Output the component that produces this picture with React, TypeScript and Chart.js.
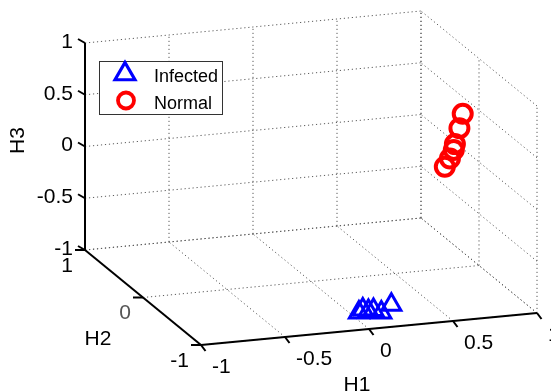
import React, { useEffect, useRef } from 'react';
import { Chart, registerables } from 'chart.js';

Chart.register(...registerables);

// ---------- data ----------
const SERIES_NAMES = ['Infected', 'Normal'];
const AXIS_TITLES = ['H1', 'H2', 'H3'];

const H1_TICKS = [-1, -0.5, 0, 0.5, 1];
const H2_TICKS = [-1, 0, 1];
const H3_TICKS = [-1, -0.5, 0, 0.5, 1];
const H1_TICK_LABELS = ['-1', '-0.5', '0', '0.5', '1'];
const H2_TICK_LABELS = ['-1', '0', '1'];
const H3_TICK_LABELS = ['-1', '-0.5', '0', '0.5', '1'];

const infectedH1 = [0.04, 0.07, 0.1, 0.13, 0.17, 0.24];
const infectedH2 = [-0.71, -0.69, -0.7, -0.7, -0.72, -0.69];
const infectedH3 = [-0.98, -0.965, -0.98, -0.975, -0.995, -0.945];

const normalH1 = [0.91, 0.88, 0.86, 0.85, 0.82, 0.8];
const normalH2 = [0.02, -0.01, 0.01, 0.0, -0.02, 0.01];
const normalH3 = [0.47, 0.35, 0.19, 0.14, 0.07, -0.02];

// ---------- view (orthographic projection, layout only) ----------
const W = 551;
const H = 391;
const VIEW = {
  cx: 311,
  cy: 178,
  e1: [168, -16],
  e2: [-58, -47.5],
  e3: [0, -103.5],
};
const FONT = '"Liberation Sans", Arial, Helvetica, sans-serif';

function project(a: number, b: number, c: number) {
  return {
    x: VIEW.cx + VIEW.e1[0] * a + VIEW.e2[0] * b + VIEW.e3[0] * c,
    y: VIEW.cy + VIEW.e1[1] * a + VIEW.e2[1] * b + VIEW.e3[1] * c,
  };
}

type P3 = [number, number, number];

function segment(p: P3, q: P3, style: any, order: number, offset?: [number, number]) {
  const a = project(p[0], p[1], p[2]);
  let b: { x: number; y: number };
  if (offset) {
    b = { x: a.x + offset[0], y: a.y + offset[1] };
  } else {
    b = project(q[0], q[1], q[2]);
  }
  return {
    type: 'scatter',
    data: [a, b],
    showLine: true,
    pointRadius: 0,
    pointHoverRadius: 0,
    fill: false,
    clip: false,
    order,
    ...style,
  };
}

const GRID_STYLE = { borderColor: '#5a5a5a', borderWidth: 1, borderDash: [1.2, 2.8] };
const AXIS_STYLE = { borderColor: '#000000', borderWidth: 2 };
const TICK_STYLE = { borderColor: '#000000', borderWidth: 2 };

function buildDatasets() {
  const ds: any[] = [];
  // back wall H2 = 1
  H1_TICKS.forEach((t) => ds.push(segment([t, 1, -1], [t, 1, 1], GRID_STYLE, 3)));
  H3_TICKS.forEach((t) => ds.push(segment([-1, 1, t], [1, 1, t], GRID_STYLE, 3)));
  // side wall H1 = 1
  H2_TICKS.forEach((t) => ds.push(segment([1, t, -1], [1, t, 1], GRID_STYLE, 3)));
  H3_TICKS.forEach((t) => ds.push(segment([1, -1, t], [1, 1, t], GRID_STYLE, 3)));
  // floor H3 = -1
  H1_TICKS.forEach((t) => ds.push(segment([t, -1, -1], [t, 1, -1], GRID_STYLE, 3)));
  H2_TICKS.forEach((t) => ds.push(segment([-1, t, -1], [1, t, -1], GRID_STYLE, 3)));

  // axes
  ds.push(segment([-1, 1, -1], [-1, 1, 1], AXIS_STYLE, 2));
  ds.push(segment([-1, -1, -1], [-1, 1, -1], AXIS_STYLE, 2));
  ds.push(segment([-1, -1, -1], [1, -1, -1], AXIS_STYLE, 2));

  // ticks
  H3_TICKS.forEach((t) => ds.push(segment([-1, 1, t], [-1, 1, t], TICK_STYLE, 2, [-7, -4])));
  H2_TICKS.forEach((t) => ds.push(segment([-1, t, -1], [-1, t, -1], TICK_STYLE, 2, [-10, 0])));
  H1_TICKS.forEach((t) => ds.push(segment([t, -1, -1], [t, -1, -1], TICK_STYLE, 2, [4.5, 6])));

  // markers
  ds.push({
    type: 'scatter',
    label: SERIES_NAMES[0],
    data: infectedH1.map((v, i) => project(v, infectedH2[i], infectedH3[i])),
    pointStyle: 'triangle',
    pointRadius: 11,
    pointBorderWidth: 3,
    borderColor: '#0000ff',
    backgroundColor: 'rgba(0,0,0,0)',
    pointBackgroundColor: 'rgba(0,0,0,0)',
    pointBorderColor: '#0000ff',
    showLine: false,
    clip: false,
    order: 0,
  });
  ds.push({
    type: 'scatter',
    label: SERIES_NAMES[1],
    data: normalH1.map((v, i) => project(v, normalH2[i], normalH3[i])),
    pointStyle: 'circle',
    pointRadius: 9,
    pointBorderWidth: 4,
    borderColor: '#ff0000',
    backgroundColor: 'rgba(0,0,0,0)',
    pointBackgroundColor: 'rgba(0,0,0,0)',
    pointBorderColor: '#ff0000',
    showLine: false,
    clip: false,
    order: 0,
  });
  return ds;
}

const overlayPlugin = {
  id: 'overlay3d',
  afterDatasetsDraw(chart: any) {
    const ctx = chart.ctx as CanvasRenderingContext2D;
    const xs = chart.scales.x;
    const ys = chart.scales.y;
    const P = (a: number, b: number, c: number) => {
      const p = project(a, b, c);
      return [xs.getPixelForValue(p.x), ys.getPixelForValue(p.y)];
    };
    ctx.save();
    ctx.fillStyle = '#000';
    ctx.font = `21px ${FONT}`;

    // H3 tick labels
    ctx.textAlign = 'right';
    ctx.textBaseline = 'middle';
    H3_TICKS.forEach((t, i) => {
      const [x, y] = P(-1, 1, t);
      ctx.fillText(H3_TICK_LABELS[i], x - 12, y - 1);
    });
    // H2 tick labels
    H2_TICKS.forEach((t, i) => {
      const [x, y] = P(-1, t, -1);
      ctx.fillStyle = H2_TICK_LABELS[i] === '0' ? '#555' : '#000';
      ctx.fillText(H2_TICK_LABELS[i], x - 12, y + 16);
    });
    ctx.fillStyle = '#000';
    // H1 tick labels
    ctx.textAlign = 'left';
    H1_TICKS.forEach((t, i) => {
      const [x, y] = P(t, -1, -1);
      ctx.fillText(H1_TICK_LABELS[i], x + 11, y + 22);
    });

    // axis titles
    ctx.textAlign = 'center';
    {
      const [x, y] = P(0, -1, -1);
      ctx.fillText(AXIS_TITLES[0], x - 12, y + 56);
    }
    {
      const [x, y] = P(-1, 0, -1);
      ctx.fillText(AXIS_TITLES[1], x - 45, y + 42);
    }
    {
      const [x, y] = P(-1, 1, 0);
      ctx.save();
      ctx.translate(x - 66.5, y - 6);
      ctx.rotate(-Math.PI / 2);
      ctx.fillText(AXIS_TITLES[2], 0, 0);
      ctx.restore();
    }

    // legend
    const lx = 99.5;
    const ly = 61.5;
    const lw = 123;
    const lh = 53;
    ctx.fillStyle = '#fff';
    ctx.fillRect(lx, ly, lw, lh);
    ctx.strokeStyle = '#333';
    ctx.lineWidth = 1;
    ctx.strokeRect(lx, ly, lw, lh);

    // triangle
    const tr = 11.5;
    const tx = 125;
    const ty = 74;
    ctx.beginPath();
    ctx.moveTo(tx, ty - tr);
    ctx.lineTo(tx + Math.sin((2 * Math.PI) / 3) * tr, ty - Math.cos((2 * Math.PI) / 3) * tr);
    ctx.lineTo(tx + Math.sin((4 * Math.PI) / 3) * tr, ty - Math.cos((4 * Math.PI) / 3) * tr);
    ctx.closePath();
    ctx.strokeStyle = '#0000ff';
    ctx.lineWidth = 3.2;
    ctx.stroke();

    // circle
    ctx.beginPath();
    ctx.arc(126, 100.5, 8, 0, Math.PI * 2);
    ctx.strokeStyle = '#ff0000';
    ctx.lineWidth = 3.8;
    ctx.stroke();

    ctx.fillStyle = '#000';
    ctx.font = `18px ${FONT}`;
    ctx.textAlign = 'left';
    ctx.textBaseline = 'alphabetic';
    ctx.fillText(SERIES_NAMES[0], 154, 82);
    ctx.fillText(SERIES_NAMES[1], 154, 109);

    ctx.restore();
  },
};

export default function App() {
  const ref = useRef<HTMLCanvasElement | null>(null);
  useEffect(() => {
    if (!ref.current) return;
    const chart = new Chart(ref.current, {
      type: 'scatter',
      data: { datasets: buildDatasets() },
      options: {
        animation: false,
        responsive: false,
        devicePixelRatio: 1,
        events: [],
        layout: { padding: 0, autoPadding: false },
        plugins: {
          legend: { display: false },
          tooltip: { enabled: false },
        },
        scales: {
          x: { type: 'linear', min: 0, max: W, display: false },
          y: { type: 'linear', min: 0, max: H, reverse: true, display: false },
        },
      } as any,
      plugins: [overlayPlugin as any],
    });
    return () => chart.destroy();
  }, []);
  return (
    <div style={{ position: 'absolute', left: 0, top: 0, width: W, height: H, background: '#fff' }}>
      <canvas ref={ref} width={W} height={H} style={{ display: 'block' }} />
    </div>
  );
}
